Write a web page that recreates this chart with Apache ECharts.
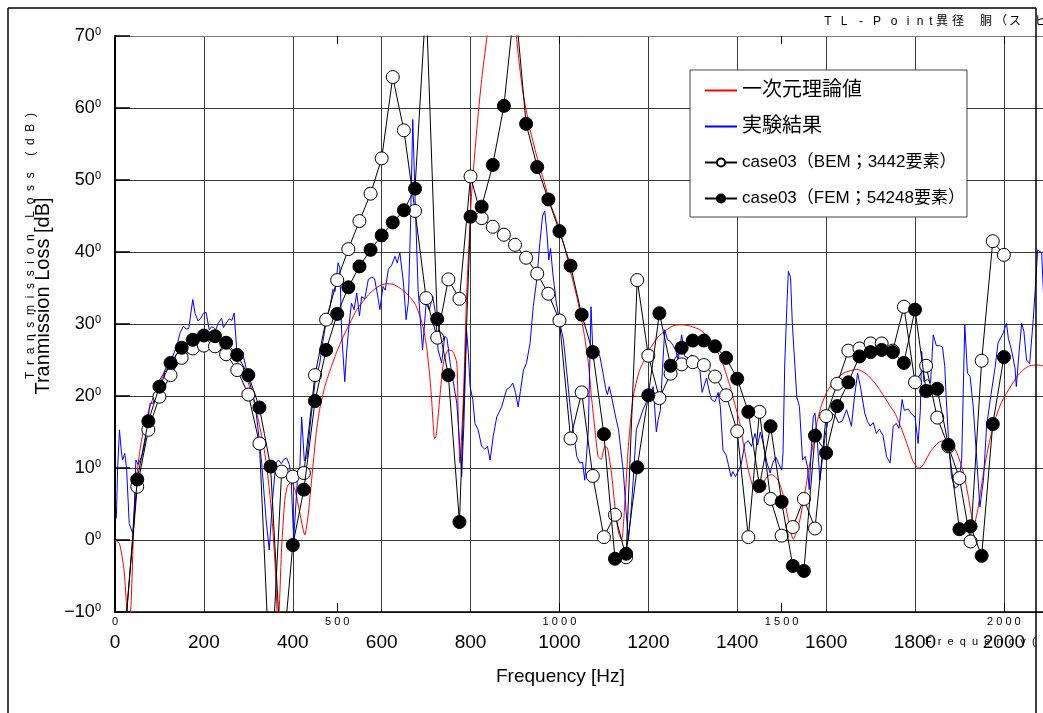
<!DOCTYPE html>
<html>
<head>
<meta charset="utf-8">
<script src="https://cdn.jsdelivr.net/npm/echarts@6/dist/echarts.min.js"></script>
<style>
html,body{margin:0;padding:0;background:#fff;}
#chart{width:1043px;height:713px;}
</style>
</head>
<body>
<div id="chart"></div>
<script>
// ---- data ----
const caseFreq = [25,50,75,100,125,150,175,200,225,250,275,300,325,350,375,400,425,450,475,500,525,550,575,600,625,650,675,700,725,750,775,800,825,850,875,900,925,950,975,1000,1025,1050,1075,1100,1125,1150,1175,1200,1225,1250,1275,1300,1325,1350,1375,1400,1425,1450,1475,1500,1525,1550,1575,1600,1625,1650,1675,1700,1725,1750,1775,1800,1825,1850,1875,1900,1925,1950,1975,2000];
const bemTL = [-11,7.4,15.3,19.9,22.9,25.3,26.6,27.0,26.9,25.8,23.6,20.2,13.4,-21,9.5,8.8,9.3,22.9,30.6,36.1,40.4,44.3,48.1,53.0,64.3,56.9,45.7,33.6,28.1,36.2,33.5,50.5,44.7,43.5,42.4,41.0,39.2,37.0,34.2,30.5,14.1,20.5,8.9,0.4,3.5,-2.4,36.1,25.6,19.7,23.1,24.4,24.7,24.3,22.7,20.1,15.1,0.4,17.8,5.7,0.6,1.8,5.7,1.6,17.2,21.7,26.3,26.6,27.3,27.3,26.3,32.4,21.9,24.2,17.0,13.0,8.6,-0.2,24.9,41.5,39.6];
const femTL = [-11,8.4,16.5,21.3,24.6,26.7,27.8,28.4,28.3,27.4,25.7,22.9,18.4,10.2,-18,-0.7,7.0,19.3,26.4,31.4,35.1,38.0,40.3,42.3,44.1,45.8,48.8,75,30.7,22.9,2.5,44.9,46.3,52.1,60.3,75,57.8,51.8,47.3,42.9,38.1,31.3,26.1,14.7,-2.6,-1.9,10.1,20.1,31.5,24.2,26.7,27.7,27.7,26.9,25.3,22.4,17.8,7.5,15.8,5.3,-3.6,-4.3,14.5,12.1,18.6,21.9,25.5,26.1,26.4,26.1,24.6,32.0,20.7,21.0,13.2,1.5,1.9,-2.2,16.1,25.4];

const theoryCurve = [[0,0],[10,-0.5],[20,-4],[26,-9],[31,-12],[36,-9],[40,-2],[45,6.5],[55,12],[64,15.3],[75,17.8],[86,19.8],[100,21.8],[116,23.6],[130,25],[146,26.2],[160,27],[176,27.5],[199,27.8],[215,27.7],[229,27.4],[245,26.8],[259,26],[275,24.8],[289,23.4],[300,21.8],[311,19.6],[322,16.8],[334,13.2],[342,9.8],[349,6],[355,1.5],[360,-3.2],[364,-9],[367,-14],[370,-9],[375,-1],[382,5.5],[388,7.5],[396,8],[405,7],[416,3.7],[427,0.7],[435,3.7],[446,10.7],[453,15],[461,18.3],[472,21.3],[484,23.6],[498,26],[514,28.3],[530,30.3],[544,32],[560,33.3],[574,34.3],[592,35.2],[611,35.6],[626,35.5],[641,35],[655,34.3],[664,33.7],[676,32.7],[686,31.1],[694,29.3],[701,26.9],[707,23.5],[712,19.9],[716,16],[719,14.1],[722,14.3],[726,16.5],[731,19.9],[739,24.6],[750,26.4],[760,26.2],[769,24.6],[772,18],[776,10.7],[778,12],[784,19.9],[791,33.8],[802,47.7],[814,57],[825,64],[836,69.5],[845,75],[855,82],[865,88],[872,90],[880,88],[890,82],[898,75],[904,69.5],[911,65.4],[919,61.7],[934,57],[949,53.3],[964,50.1],[979,46.8],[993,44.5],[1009,41.3],[1024,37.5],[1039,33.8],[1054,29.2],[1065,24.6],[1072,19.9],[1080,15.3],[1087,11.6],[1094,11.2],[1102,13],[1108,12.8],[1117,9.3],[1125,4.6],[1133,1],[1140,0],[1147,5],[1155,13],[1166,19.9],[1180,23.5],[1204,26.6],[1222,28.2],[1241,29.2],[1258,29.8],[1275,29.9],[1295,29.7],[1316,29.2],[1335,28.2],[1350,26.9],[1367,24.6],[1384,21.3],[1395,18.8],[1406,16.2],[1415,13],[1425,9.7],[1435,7.5],[1444,6.5],[1455,7.5],[1467,8.8],[1477,9.1],[1485,8.8],[1493,8.2],[1500,7],[1508,5],[1515,2.8],[1526,0.1],[1533,1],[1541,2.8],[1549,5.5],[1556,7.9],[1567,12],[1579,16.2],[1590,18.8],[1602,20.6],[1620,22.2],[1640,23.2],[1669,23.7],[1690,23.1],[1710,21.8],[1730,20],[1745,18.5],[1755,17.6],[1770,15.4],[1785,12.8],[1795,11],[1805,10.1],[1811,10],[1820,10.6],[1835,12.3],[1852,13.5],[1865,13.8],[1882,13.4],[1895,12],[1905,10.2],[1913,8.3],[1920,6],[1927,3.5],[1933,2.2],[1940,3.8],[1947,6.5],[1954,9.3],[1967,13.5],[1980,16.7],[1993,18.9],[2006,20.4],[2020,21.8],[2032,22.9],[2045,23.7],[2058,24.2],[2075,24.3],[2088,24.2]];

const experimentCurve = [[3,3],[6,10],[10,15.3],[14,12.5],[17,11.1],[22,12],[26,10],[32,2.3],[40,0.9],[44,5],[47,11.1],[52,10.5],[60,11.6],[66,13],[71,15.3],[79,19],[86,19],[94,21.3],[101,22.3],[108,23],[120,24.6],[127,25],[133,26],[139,26.9],[146,28.7],[154,29.7],[160,29.3],[166,29.4],[175,33.4],[180,31.5],[187,30.4],[193,30.8],[199,31.5],[205,31.6],[212,29.2],[217,29.6],[222,29.5],[227,29.2],[232,30.1],[240,30.8],[244,29.5],[250,30.1],[257,30.7],[263,30.5],[268,31.5],[274,26.4],[282,25.2],[289,25.5],[296,23.6],[307,20.9],[315,19],[322,15.3],[330,10.7],[340,2.8],[347,-1.4],[355,6],[362,10.7],[368,11.1],[374,10.6],[380,11.2],[386,11.4],[392,10.5],[396,9],[402,0],[410,8],[416,10.2],[420,17.1],[426,11],[432,11.5],[442,17.6],[450,21.8],[457,23.6],[461,24.6],[466,27],[476,30.6],[484,32.4],[490,34.8],[495,34.5],[502,38.5],[506,37.8],[510,28.7],[517,22],[521,26],[527,30.1],[532,32.9],[538,32],[544,34.3],[550,31.1],[555,33.8],[562,33.5],[570,36.2],[578,36.5],[584,36.3],[590,34.3],[596,32],[603,35.2],[608,34.7],[615,37.6],[622,38.1],[630,39.4],[635,38.5],[641,39.9],[649,35.7],[655,30.6],[660,33],[665,44],[670,58.4],[675,47.7],[682,34.8],[692,26.4],[700,32.9],[707,32],[715,33.8],[721,31.5],[727,26.4],[735,24.6],[742,28.3],[747,28],[754,24.6],[761,22],[769,19],[776,13],[780,8.8],[785,16],[791,29.2],[795,26],[799,21.3],[805,19.5],[810,16.2],[817,15.3],[825,13],[832,12.6],[838,13],[844,11.1],[851,14.4],[859,17.1],[870,18.5],[881,20.9],[888,21.2],[895,21.8],[901,20.5],[907,18.5],[912,20.6],[919,23.6],[926,24.6],[934,27.4],[941,32.4],[949,36.2],[956,41.3],[962,45],[967,45.7],[972,42.5],[976,38.9],[980,40.5],[985,37.1],[993,32.9],[1001,30.1],[1009,27.8],[1016,23.6],[1024,18.5],[1031,15.3],[1039,11.6],[1046,10.7],[1052,10.8],[1057,8.3],[1065,15.3],[1071,32.4],[1076,25],[1084,26.4],[1091,25.5],[1098,23.2],[1104,21],[1108,20.2],[1112,21.3],[1117,20],[1125,17.5],[1133,15.3],[1144,9.3],[1150,4],[1155,0],[1160,3],[1166,8.3],[1173,15.3],[1177,15.3],[1188,18.1],[1196,19.2],[1204,19.9],[1211,21.3],[1218,15],[1222,16.7],[1227,18],[1232,24],[1237,29.2],[1243,27.8],[1249,27.6],[1256,27],[1262,26.3],[1267,25],[1275,28.5],[1282,25.5],[1290,25.3],[1297,25.7],[1304,24.8],[1310,24.5],[1316,23.6],[1321,20.5],[1325,21.3],[1331,22.5],[1336,21],[1342,19.5],[1350,19.2],[1357,20.5],[1362,18.5],[1368,12.5],[1375,11.8],[1380,10.5],[1386,8.8],[1390,9.5],[1396,8.8],[1402,9.5],[1409,10.5],[1417,13.4],[1425,13.8],[1432,13],[1440,14.8],[1446,13.2],[1452,15],[1458,13.5],[1467,10.7],[1474,9.3],[1480,10.7],[1487,11.5],[1494,10.5],[1500,9.7],[1503,12],[1507,24.6],[1512,33],[1515,37.3],[1520,36.5],[1524,30],[1530,24],[1534,19.9],[1540,18.5],[1547,11.1],[1553,11.6],[1558,10.2],[1562,7],[1567,13],[1571,17.1],[1575,17.6],[1580,14],[1586,8.3],[1592,11.5],[1598,14.5],[1605,16.7],[1612,17.6],[1620,17.3],[1628,16.3],[1636,16.5],[1646,18.1],[1657,15.8],[1664,20],[1671,23.2],[1678,21],[1687,17.6],[1693,16.5],[1699,15.8],[1706,16.3],[1713,14.8],[1720,15.4],[1728,14.5],[1736,11.6],[1744,10.7],[1751,15.8],[1758,16.2],[1764,15.5],[1771,19.5],[1776,18],[1785,18.2],[1792,17.5],[1800,17.1],[1807,13.4],[1812,18],[1815,26.2],[1820,22],[1828,22.3],[1835,21.8],[1841,28.5],[1848,27],[1855,27],[1862,26.8],[1867,24.1],[1870,20],[1875,14.4],[1882,8.8],[1890,7.2],[1897,7.5],[1905,11.1],[1912,29.9],[1918,23.2],[1924,22.7],[1931,18.5],[1938,12.1],[1946,4.6],[1954,8.3],[1961,15.8],[1971,20.2],[1980,23.9],[1987,27.4],[1998,28.7],[2006,30.1],[2010,28],[2017,26.4],[2025,23.9],[2028,21.3],[2034,26],[2040,30.1],[2045,29],[2051,25],[2058,24.5],[2066,30.6],[2070,34.3],[2076,40.3],[2085,39.9],[2090,33]];

const seriesNames = ['一次元理論値','実験結果','case03（BEM；3442要素）','case03（FEM；54248要素）'];
const xTitle = 'Frequency [Hz]';
const yTitle = 'Tranmission Loss [dB]';
const ghostYTitle = 'Transmission Loss (dB)';
const ghostXTitle = 'Frequency(';
const headerChars = ['T','L','-','P','o','i','n','t','異','径','胴','（','ス','ピ'];

// ---- chart ----
const FONT = '"Liberation Sans", Arial, "Noto Sans CJK JP", sans-serif';
const JFONT = '"Liberation Sans", "Noto Sans CJK JP", sans-serif';
const chart = echarts.init(document.getElementById('chart'), null, {renderer: 'canvas'});
const spread = s => s.split('').join('  ');

const headerX = [828, 844, 861, 877, 894, 908, 920, 931, 942, 958, 986, 1001, 1015, 1041];
const graphics = [
  {type:'line', shape:{x1:8,y1:8,x2:1036,y2:8}, style:{stroke:'#000',lineWidth:1.5}, z:100},
  {type:'line', shape:{x1:8,y1:8,x2:8,y2:713}, style:{stroke:'#000',lineWidth:1.5}, z:100},
  {type:'line', shape:{x1:1036,y1:8,x2:1036,y2:713}, style:{stroke:'#000',lineWidth:1.5}, z:100},
  {type:'text', left:496, top:667, style:{text:xTitle, font:'19px ' + FONT, fill:'#000'}},
  {type:'text', x:43, y:296, rotation:Math.PI/2, style:{text:yTitle, font:'20px ' + FONT, fill:'#000', align:'center', verticalAlign:'middle'}},
  {type:'text', x:31, y:246, rotation:Math.PI/2, style:{text:spread(ghostYTitle), font:'12px ' + FONT, fill:'#000', align:'center', verticalAlign:'middle'}},
  {type:'text', x:925, y:642, style:{text:spread(ghostXTitle), font:'11px ' + FONT, fill:'#000', verticalAlign:'middle'}}
];
headerChars.forEach((c, i) => {
  graphics.push({type:'text', x:headerX[i], y:22, style:{text:c, font:'12px ' + JFONT, fill:'#000', align:'center', verticalAlign:'middle'}});
});

const hidden = {color:'rgba(0,0,0,0)', borderWidth:0, borderColor:'rgba(0,0,0,0)'};
const option = {
  animation: false,
  backgroundColor: '#fff',
  grid: {left: 115, right: 0, top: 36, bottom: 101, containLabel: false},
  legend: {
    orient: 'vertical', left: 690, top: 70,
    data: [
      {name: seriesNames[0], itemStyle: hidden},
      {name: seriesNames[1], itemStyle: hidden},
      {name: seriesNames[2]},
      {name: seriesNames[3]}
    ],
    formatter: name => (seriesNames.indexOf(name) < 2 ? '{j|' + name + '}' : '{c|' + name + '}'),
    backgroundColor: '#fff', borderColor: '#444', borderWidth: 1,
    padding: [9, 2, 7, 14], itemGap: 13,
    itemWidth: 32, itemHeight: 10,
    textStyle: {color: '#000', fontFamily: JFONT,
      rich: {j: {fontSize: 20, fontFamily: JFONT, height: 23, lineHeight: 23, color:'#000'},
             c: {fontSize: 17, fontFamily: JFONT, height: 23, lineHeight: 23, color:'#000'}}}
  },
  xAxis: [
    {type:'value', min:0, max:2088, interval:200, position:'bottom',
     axisLine:{show:true, onZero:false, lineStyle:{color:'#000', width:1.5}},
     axisTick:{show:false},
     axisLabel:{fontSize:19, color:'#000', margin:21, fontFamily:FONT, showMaxLabel:false,
       formatter: v => String(v)},
     splitLine:{show:true, lineStyle:{color:'#3a3a3a', width:1}}},
    {type:'value', min:0, max:2088, interval:500, position:'bottom',
     axisLine:{show:false, onZero:false},
     axisTick:{show:true, inside:true, length:9, lineStyle:{color:'#000'}},
     axisLabel:{fontSize:11, color:'#000', margin:4, fontFamily:FONT, showMaxLabel:false,
       formatter: v => String(v).split('').join(' ')},
     splitLine:{show:false}},
    {type:'value', min:0, max:2088, interval:500, position:'top',
     axisLine:{show:true, onZero:false, lineStyle:{color:'#777', width:1}},
     axisTick:{show:true, inside:true, length:8, lineStyle:{color:'#000'}},
     axisLabel:{show:false},
     splitLine:{show:false}}
  ],
  yAxis: {
    type:'value', min:-10, max:70, interval:10,
    axisLine:{show:true, onZero:false, lineStyle:{color:'#000', width:2}},
    axisTick:{show:true, inside:true, length:15, lineStyle:{color:'#000', width:1.5}},
    axisLabel:{margin:14, color:'#000',
      formatter: v => '{a|' + (v < 0 ? '−' + Math.abs(v) : v) + '}{b|0}',
      rich:{a:{fontSize:18, fontFamily:FONT, color:'#000', lineHeight:20},
            b:{fontSize:11, fontFamily:FONT, color:'#000', verticalAlign:'top', lineHeight:20}}},
    splitLine:{show:true, lineStyle:{color:'#3a3a3a', width:1}}
  },
  series: [
    {name: seriesNames[0], type:'line', data: theoryCurve, symbol:'none', smooth:0.2,
     lineStyle:{color:'#ff0000', width:1}, itemStyle:{color:'#ff0000'}, clip:true, z:3},
    {name: seriesNames[1], type:'line', data: experimentCurve, symbol:'none',
     lineStyle:{color:'#0000ff', width:1}, itemStyle:{color:'#0000ff'}, clip:true, z:3},
    {name: seriesNames[2], type:'line', data: caseFreq.map((f, i) => [f, bemTL[i]]),
     symbol:'circle', symbolSize:13, showAllSymbol:true,
     lineStyle:{color:'#000', width:1}, itemStyle:{color:'#fff', borderColor:'#000', borderWidth:1},
     clip:true, z:4},
    {name: seriesNames[3], type:'line', data: caseFreq.map((f, i) => [f, femTL[i]]),
     symbol:'circle', symbolSize:13, showAllSymbol:true,
     lineStyle:{color:'#000', width:1}, itemStyle:{color:'#000', borderColor:'#000', borderWidth:1},
     clip:true, z:5}
  ],
  graphic: graphics
};
chart.setOption(option);
</script>
</body>
</html>
